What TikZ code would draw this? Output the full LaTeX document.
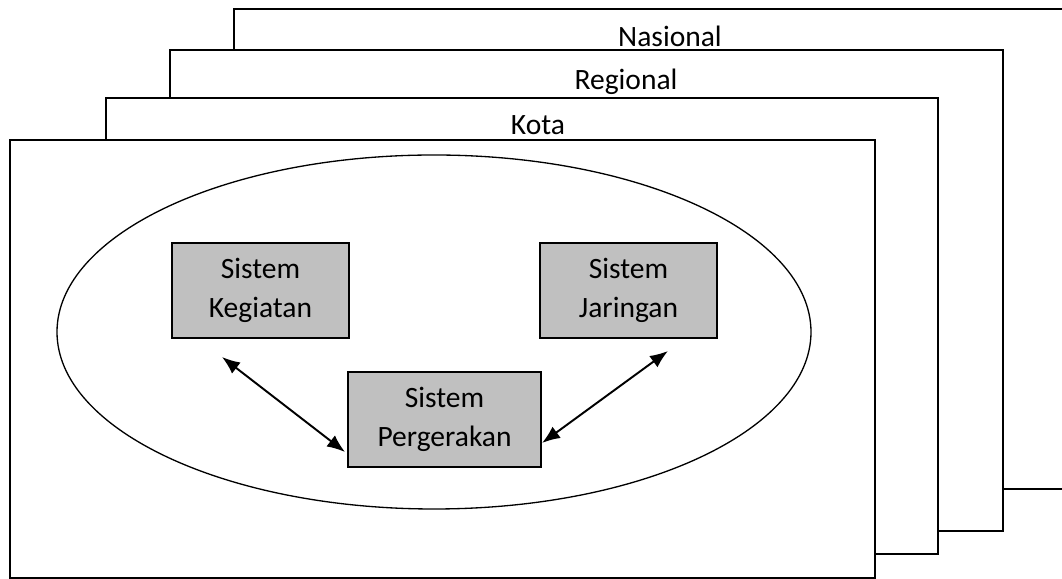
\documentclass[tikz,border=0pt]{standalone}
\usepackage{fontspec}
\setmainfont{Carlito}
\usetikzlibrary{arrows.meta}
\definecolor{sysgray}{HTML}{C0C0C0}
\tikzset{
  layerbox/.style={draw, fill=white, line width=0.75pt},
  sysbox/.style={draw, fill=sysgray, line width=0.75pt, align=center,
    minimum width=3.54cm, minimum height=1.9cm, inner sep=0pt,
    font=\fontsize{16.8pt}{22.5pt}\selectfont},
  layertext/.style={anchor=base, font=\fontsize{16.8pt}{22.5pt}\selectfont},
  link/.style={{Latex[length=0.36cm,width=0.28cm]}-{Latex[length=0.36cm,width=0.28cm]},
    line width=1.1pt}
}
\begin{document}
\begin{tikzpicture}
    \useasboundingbox (0,0) rectangle (21.24,11.58);
    \clip (0,0) rectangle (21.24,11.58);
    % stacked layers, back to front
    \draw[layerbox] ( 4.68, 1.80) rectangle (22.00,11.40);
    \node[layertext] (nasional) at (13.40,10.64) {Nasional};
    \draw[layerbox] ( 3.40, 0.96) rectangle (20.06,10.58);
    \node[layertext] (regional) at (12.52, 9.78) {Regional};
    \draw[layerbox] ( 2.12, 0.50) rectangle (18.76, 9.62);
    \node[layertext] (kota) at (10.76, 8.88) {Kota};
    \draw[layerbox] ( 0.20, 0.02) rectangle (17.50, 8.78);
    % transport system
    \draw[line width=0.75pt] ( 8.68, 4.94) ellipse (7.54 and 3.54);
    \node[sysbox] (kegiatan) at ( 5.21, 5.77) {Sistem\\Kegiatan};
    \node[sysbox] (jaringan) at (12.57, 5.77) {Sistem\\Jaringan};
    \node[sysbox, minimum width=3.86cm] (pergerakan) at ( 8.89, 3.19) {Sistem\\Pergerakan};
    % interactions
    \coordinate (kgEnd) at ( 4.44, 4.44);
    \coordinate (pgLeft) at ( 6.90, 2.54);
    \coordinate (jrEnd) at (13.36, 4.56);
    \coordinate (pgRight) at (10.84, 2.72);
    \draw[link] (kgEnd) -- (pgLeft);
    \draw[link] (jrEnd) -- (pgRight);
\end{tikzpicture}
\end{document}
